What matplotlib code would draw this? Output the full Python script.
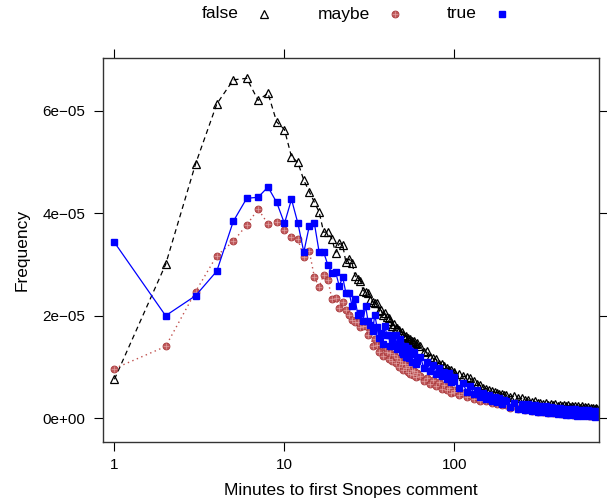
import numpy as np
import matplotlib
matplotlib.use("Agg")
import matplotlib.pyplot as plt
from matplotlib.lines import Line2D

plt.rcParams['font.family'] = ['Liberation Sans', 'DejaVu Sans']

# minutes to first Snopes comment (x grid shared by all three series)
minutes = [1, 2, 3, 4, 5, 6, 7, 8, 9, 10, 11, 12, 13, 14, 15, 16, 17, 18, 19, 20,
           21, 22, 23, 24, 25, 26, 27, 28, 29, 30, 31, 32, 33, 34, 35, 36, 37, 38, 39, 40,
           41, 42, 43, 44, 45, 46, 47, 48, 49, 50, 51, 52, 53, 54, 55, 56, 57, 58, 59, 60,
           63, 66, 69, 72, 75, 78, 81, 84, 87, 90, 93, 96, 99,
           100, 106, 112, 118, 124, 130, 136, 142, 148, 154, 160, 166, 172, 178, 184, 190, 196,
           200, 212, 224, 236, 248, 260, 272, 284, 296, 308, 320, 332, 344, 356, 368, 380,
           392, 404, 416, 428, 440, 452, 464, 476, 488, 500, 512, 524, 536, 548, 560, 572,
           584, 596, 608, 620, 632, 644, 656, 668, 680, 692]

# frequencies, in units of 1e-5
freq_false = [0.76, 3.00, 4.96, 6.13, 6.60, 6.63, 6.20, 6.34, 5.78, 5.63,
              5.10, 4.99, 4.64, 4.42, 4.22, 4.02, 3.63, 3.63, 3.50, 3.23,
              3.41, 3.38, 3.04, 3.11, 3.02, 2.78, 2.72, 2.68, 2.49, 2.47,
              2.45, 2.31, 2.27, 2.25, 2.24, 2.09, 2.12, 2.02, 2.05, 1.98,
              1.95, 1.90, 1.80, 1.84, 1.76, 1.76, 1.72, 1.66, 1.68, 1.62,
              1.59, 1.60, 1.56, 1.53, 1.55, 1.50, 1.48, 1.50, 1.45, 1.47,
              1.40, 1.30, 1.31, 1.20, 1.17, 1.15, 1.06, 1.05, 1.01, 0.99, 0.95, 0.94, 0.90,
              0.88, 0.86, 0.82, 0.81, 0.78, 0.73, 0.67, 0.64, 0.59, 0.58, 0.55, 0.54, 0.51,
              0.50, 0.48, 0.48, 0.46,
              0.45, 0.42, 0.43, 0.39, 0.39, 0.35, 0.36, 0.32, 0.33, 0.29, 0.30, 0.27,
              0.29, 0.26, 0.28, 0.25, 0.27, 0.24, 0.26, 0.23, 0.25, 0.23, 0.25, 0.22,
              0.24, 0.22, 0.24, 0.21, 0.23, 0.21, 0.23, 0.20, 0.22, 0.20, 0.22, 0.19,
              0.21, 0.19, 0.21, 0.18, 0.20, 0.18]
freq_maybe = [0.97, 1.40, 2.47, 3.17, 3.45, 3.77, 4.08, 3.79, 3.83, 3.67,
              3.53, 3.49, 3.14, 3.26, 2.75, 2.56, 2.80, 2.70, 2.33, 2.35,
              2.16, 2.26, 2.11, 2.02, 1.92, 1.87, 1.88, 1.78, 1.80, 1.79,
              1.63, 1.70, 1.40, 1.54, 1.42, 1.30, 1.43, 1.22, 1.39, 1.30,
              1.16, 1.27, 1.12, 1.24, 1.08, 1.18, 1.00, 1.12, 1.06, 0.94,
              1.05, 0.98, 0.90, 1.01, 0.86, 0.95, 0.84, 0.92, 0.80, 0.88,
              0.82, 0.72, 0.78, 0.66, 0.74, 0.62, 0.70, 0.57, 0.64, 0.55, 0.60, 0.50, 0.56,
              0.52, 0.46, 0.50, 0.41, 0.45, 0.37, 0.42, 0.34, 0.39, 0.33, 0.36, 0.29, 0.34,
              0.27, 0.31, 0.25, 0.29,
              0.26, 0.20, 0.25, 0.18, 0.23, 0.16, 0.21, 0.15, 0.20, 0.13, 0.19, 0.12,
              0.18, 0.11, 0.17, 0.10, 0.16, 0.10, 0.15, 0.09, 0.14, 0.08, 0.14, 0.08,
              0.13, 0.07, 0.13, 0.07, 0.12, 0.06, 0.12, 0.06, 0.11, 0.06, 0.11, 0.05,
              0.10, 0.05, 0.10, 0.04, 0.09, 0.05]
freq_true = [3.43, 2.00, 2.39, 2.87, 3.84, 4.29, 4.31, 4.51, 4.21, 3.80,
             4.27, 3.80, 3.24, 3.75, 3.80, 3.24, 3.24, 2.99, 2.83, 2.85,
             2.58, 2.75, 2.44, 2.45, 2.19, 2.33, 2.02, 2.05, 1.90, 2.19,
             1.90, 1.82, 1.70, 2.02, 1.78, 1.56, 1.67, 1.45, 1.80, 1.62,
             1.63, 1.40, 1.55, 1.40, 1.62, 1.35, 1.45, 1.55, 1.30, 1.25,
             1.40, 1.20, 1.38, 1.18, 1.32, 1.10, 1.25, 1.30, 1.05, 1.12,
             1.20, 0.98, 1.10, 0.92, 1.04, 0.86, 0.98, 0.82, 0.90, 0.76, 0.88, 0.70, 0.80,
             0.72, 0.60, 0.68, 0.52, 0.62, 0.48, 0.55, 0.42, 0.50, 0.38, 0.46, 0.34, 0.42,
             0.32, 0.40, 0.28, 0.36,
             0.34, 0.22, 0.30, 0.18, 0.28, 0.16, 0.27, 0.15, 0.25, 0.13, 0.24, 0.12,
             0.23, 0.11, 0.22, 0.10, 0.21, 0.09, 0.20, 0.08, 0.19, 0.07, 0.19, 0.06,
             0.18, 0.08, 0.18, 0.05, 0.17, 0.07, 0.17, 0.04, 0.16, 0.06, 0.16, 0.04,
             0.15, 0.05, 0.15, 0.03, 0.14, 0.05]

labels = ["false", "maybe", "true"]
maybe_face = "#c05a5c"
maybe_edge = "#a8383b"

x = np.array(minutes)
yf = np.array(freq_false) * 1e-5
ym = np.array(freq_maybe) * 1e-5
yt = np.array(freq_true) * 1e-5

fig = plt.figure(figsize=(6.07, 5.04), dpi=100)
ax = fig.add_axes([0.1692, 0.1236, 0.8176, 0.7607])

ax.plot(x, yf, color="black", ls=(0, (4, 3)), lw=0.9, marker="^", ms=5.5,
        mfc="none", mec="black", mew=0.9)
ax.plot(x, ym, color="#c0504d", ls=(0, (1, 2.5)), lw=1.0)
ax.plot(x, ym, ls="none", marker="o", ms=5, mfc=maybe_face, mec=maybe_edge, mew=0.6)
ax.plot(x, ym, ls="none", marker="+", ms=4.4, mec="#e0a0a0", mew=0.5)
ax.plot(x, yt, color="#0000ff", ls="-", lw=0.9, marker="s", ms=4.3,
        mfc="#0000ff", mec="#0000ff")

ax.set_xscale("log")
ax.set_xlim(10 ** -0.069, 10 ** 2.85)
ax.set_ylim(-0.457e-5, 7.02e-5)
ax.set_xticks([1, 10, 100])
ax.set_xticklabels(["1", "10", "100"])
ax.xaxis.set_minor_locator(matplotlib.ticker.NullLocator())
ax.set_yticks([0, 2e-5, 4e-5, 6e-5])
ax.set_yticklabels(["0e+00", "2e\u221205", "4e\u221205", "6e\u221205"])
ax.tick_params(direction="out", top=True, right=True, labeltop=False, labelright=False,
               length=6.5, width=0.8, labelsize=11)
ax.tick_params(axis="x", pad=5)
ax.tick_params(axis="y", pad=6)
for s in ax.spines.values():
    s.set_linewidth(1.0)
    s.set_color("#333333")

fig.text(0.5 * (0.1692 + 0.9868), 1 - 491 / 504, "Minutes to first Snopes comment",
         ha="center", va="center", fontsize=12.5)
fig.text(22 / 607, 1 - 250 / 504, "Frequency", ha="center", va="center",
         rotation=90, fontsize=12.5)

# legend across the top
ly = 1 - 14 / 504
text_x = [220, 344, 462]
mark_x = [263.5, 395, 502.5]
for tx, lab in zip(text_x, labels):
    fig.text(tx / 607, ly, lab, ha="center", va="center", fontsize=12.5)
fig.add_artist(Line2D([mark_x[0] / 607], [ly], transform=fig.transFigure, marker="^",
                      ms=6, mfc="none", mec="black", mew=0.9, ls="none"))
fig.add_artist(Line2D([mark_x[1] / 607], [ly], transform=fig.transFigure, marker="o",
                      ms=5, mfc=maybe_face, mec=maybe_edge, mew=0.6, ls="none"))
fig.add_artist(Line2D([mark_x[1] / 607], [ly], transform=fig.transFigure, marker="+",
                      ms=4.4, mec="#e0a0a0", mew=0.5, ls="none"))
fig.add_artist(Line2D([mark_x[2] / 607], [ly], transform=fig.transFigure, marker="s",
                      ms=4.5, mfc="#0000ff", mec="#0000ff", ls="none"))

fig.savefig("out.png", dpi=100)
